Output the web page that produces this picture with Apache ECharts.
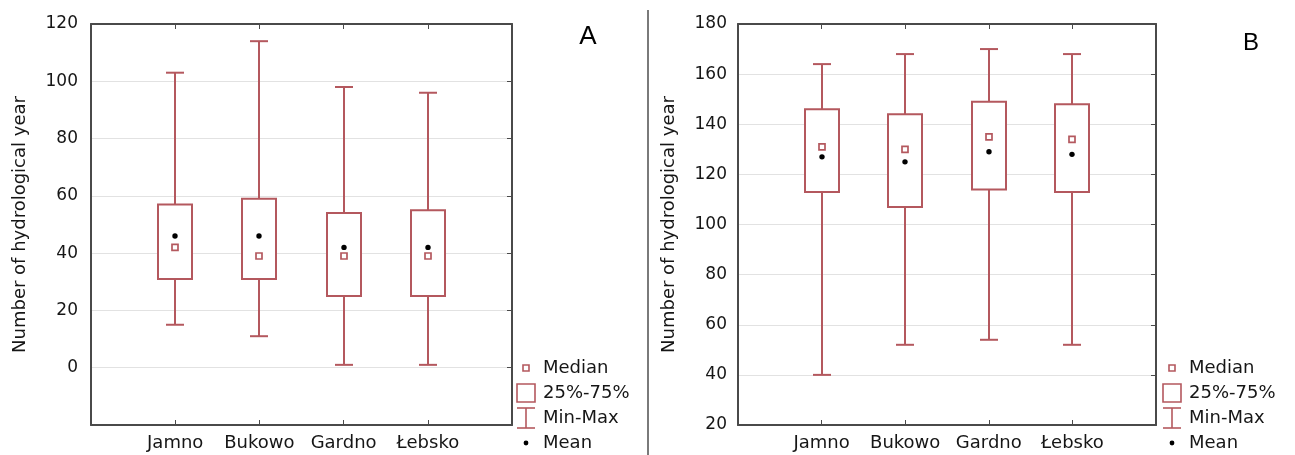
<!DOCTYPE html>
<html>
<head>
<meta charset="utf-8">
<script src="https://cdn.jsdelivr.net/npm/echarts@6/dist/echarts.min.js"></script>
<style>
  html, body { margin: 0; padding: 0; background: #fff; }
  #chart { width: 1295px; height: 455px; }
</style>
</head>
<body>
<div id="chart"></div>
<script>
// Lakes on the x axis
const categories = ['Jamno', 'Bukowo', 'Gardno', 'Łebsko'];

// Panel A statistics
const minA    = [15, 11, 1, 1];
const q1A     = [31, 31, 25, 25];
const medianA = [42, 39, 39, 39];
const q3A     = [57, 59, 54, 55];
const maxA    = [103, 114, 98, 96];
const meanA   = [46, 46, 42, 42];

// Panel B statistics
const minB    = [40, 52, 54, 52];
const q1B     = [113, 107, 114, 113];
const medianB = [131, 130, 135, 134];
const q3B     = [146, 144, 149, 148];
const maxB    = [164, 168, 170, 168];
const meanB   = [127, 125, 129, 128];

// Labelled y ticks
const yTicksA = [0, 20, 40, 60, 80, 100, 120];
const yTicksB = [20, 40, 60, 80, 100, 120, 140, 160, 180];

const legendLabels = ['Median', '25%-75%', 'Min-Max', 'Mean'];

const RED = '#b4585e';
const FRAME = '#4a4a4a';
const TEXT = '#161616';
const GRIDLINE = '#e2e2e2';
const FONT = 'DejaVu Sans';
const YTITLE = 'Number of hydrological year';

function boxData(mins, q1s, meds, q3s, maxs, means) {
  return categories.map((c, i) => [i + 1, mins[i], q1s[i], meds[i], q3s[i], maxs[i], means[i]]);
}

function redLine() { return { stroke: RED, lineWidth: 2, fill: null }; }

// One box-and-whisker glyph per category, positioned through the axes
function renderBox(params, api) {
  const x = api.value(0);
  const at = v => api.coord([x, v]);
  const pMin = at(api.value(1));
  const pQ1 = at(api.value(2));
  const pMed = at(api.value(3));
  const pQ3 = at(api.value(4));
  const pMax = at(api.value(5));
  const pMean = at(api.value(6));
  const cx = Math.round(pMin[0]);
  const bw = 34, cw = 18, ms = 6;
  return {
    type: 'group',
    children: [
      { type: 'line', shape: { x1: cx, y1: pMin[1], x2: cx, y2: pQ1[1] }, style: redLine() },
      { type: 'line', shape: { x1: cx, y1: pQ3[1], x2: cx, y2: pMax[1] }, style: redLine() },
      { type: 'line', shape: { x1: cx - cw / 2, y1: pMin[1], x2: cx + cw / 2, y2: pMin[1] }, style: redLine() },
      { type: 'line', shape: { x1: cx - cw / 2, y1: pMax[1], x2: cx + cw / 2, y2: pMax[1] }, style: redLine() },
      { type: 'rect', shape: { x: cx - bw / 2, y: pQ3[1], width: bw, height: pQ1[1] - pQ3[1] },
        style: { stroke: RED, lineWidth: 2, fill: '#ffffff' } },
      { type: 'rect', shape: { x: cx - ms / 2, y: pMed[1] - ms / 2, width: ms, height: ms },
        style: { stroke: RED, lineWidth: 1.7, fill: '#ffffff' } },
      { type: 'circle', shape: { cx: cx, cy: pMean[1], r: 2.7 }, style: { fill: '#000000' } }
    ]
  };
}

function xAxes(gridIndex) {
  const common = {
    type: 'value', gridIndex: gridIndex, min: 0, max: 5, interval: 1,
    axisLine: { show: true, onZero: false, lineStyle: { color: FRAME, width: 2 } },
    axisTick: { show: true, inside: true, length: 5, lineStyle: { color: FRAME, width: 1 } },
    splitLine: { show: false }
  };
  return [
    Object.assign({}, common, {
      position: 'bottom',
      axisLabel: { formatter: v => categories[v - 1] || '', color: TEXT, fontSize: 18,
                   fontFamily: FONT, margin: 9 }
    }),
    Object.assign({}, common, { position: 'top', axisLabel: { show: false } })
  ];
}

function yAxes(gridIndex, min, max, ticks, labelMargin, nameGap) {
  return [
    {
      type: 'value', gridIndex: gridIndex, min: min, max: max, interval: 20, position: 'left',
      axisLine: { show: true, onZero: false, lineStyle: { color: FRAME, width: 2 } },
      axisTick: { show: false },
      axisLabel: { formatter: v => (ticks.includes(v) ? String(v) : ''), color: TEXT,
                   fontSize: 17, fontFamily: FONT, margin: labelMargin },
      splitLine: { show: true, lineStyle: { color: GRIDLINE, width: 1 } },
      name: YTITLE, nameLocation: 'middle', nameGap: nameGap,
      nameTextStyle: { color: TEXT, fontSize: 18, fontFamily: FONT }
    },
    {
      type: 'value', gridIndex: gridIndex, min: min, max: max, interval: 20, position: 'right',
      axisLine: { show: true, onZero: false, lineStyle: { color: FRAME, width: 2 } },
      axisTick: { show: true, inside: true, length: 5, lineStyle: { color: FRAME, width: 1 } },
      axisLabel: { show: false },
      splitLine: { show: false }
    }
  ];
}

// Legend drawn beside a panel, its left symbol edge at x0
function legendGraphics(x0) {
  const sx = x0 + 9;      // symbol centre
  const tx = x0 + 26;     // text start
  const rows = [368, 393, 418, 443];
  const els = [];
  els.push({ type: 'rect', shape: { x: sx - 3, y: rows[0] - 3, width: 6, height: 6 },
             style: { stroke: RED, lineWidth: 1.6, fill: '#fff' } });
  els.push({ type: 'rect', shape: { x: x0, y: rows[1] - 9, width: 18, height: 18 },
             style: { stroke: RED, lineWidth: 1.6, fill: '#fff' } });
  els.push({ type: 'line', shape: { x1: sx, y1: rows[2] - 10, x2: sx, y2: rows[2] + 10 },
             style: { stroke: RED, lineWidth: 1.6 } });
  els.push({ type: 'line', shape: { x1: x0, y1: rows[2] - 10, x2: x0 + 18, y2: rows[2] - 10 },
             style: { stroke: RED, lineWidth: 1.6 } });
  els.push({ type: 'line', shape: { x1: x0, y1: rows[2] + 10, x2: x0 + 18, y2: rows[2] + 10 },
             style: { stroke: RED, lineWidth: 1.6 } });
  els.push({ type: 'circle', shape: { cx: sx, cy: rows[3], r: 2.4 }, style: { fill: '#000' } });
  legendLabels.forEach((t, i) => {
    els.push({ type: 'text', x: tx, y: rows[i],
               style: { text: t, fill: TEXT, font: '18px "' + FONT + '"', textVerticalAlign: 'middle' } });
  });
  return els;
}

const chart = echarts.init(document.getElementById('chart'));
chart.setOption({
  backgroundColor: '#ffffff',
  animation: false,
  grid: [
    { left: 91, top: 24, width: 421, height: 401 },
    { left: 738, top: 24, width: 418, height: 401 }
  ],
  xAxis: [...xAxes(0), ...xAxes(1)],
  yAxis: [...yAxes(0, -20, 120, yTicksA, 13, 62), ...yAxes(1, 20, 180, yTicksB, 11, 60)],
  series: [
    { type: 'custom', name: 'A', xAxisIndex: 0, yAxisIndex: 0, renderItem: renderBox,
      data: boxData(minA, q1A, medianA, q3A, maxA, meanA), encode: { x: 0, y: [1, 2, 3, 4, 5, 6] } },
    { type: 'custom', name: 'B', xAxisIndex: 2, yAxisIndex: 2, renderItem: renderBox,
      data: boxData(minB, q1B, medianB, q3B, maxB, meanB), encode: { x: 0, y: [1, 2, 3, 4, 5, 6] } }
  ],
  graphic: [
    { type: 'line', shape: { x1: 648, y1: 10, x2: 648, y2: 455 }, style: { stroke: '#7a7a7a', lineWidth: 2 } },
    { type: 'text', x: 588, y: 37, style: { text: 'A', fill: '#000', font: '26px "Liberation Sans"',
      textAlign: 'center', textVerticalAlign: 'middle' } },
    { type: 'text', x: 1251, y: 43, style: { text: 'B', fill: '#000', font: '24px "Liberation Sans"',
      textAlign: 'center', textVerticalAlign: 'middle' } },
    ...legendGraphics(517),
    ...legendGraphics(1163)
  ]
});
</script>
</body>
</html>
